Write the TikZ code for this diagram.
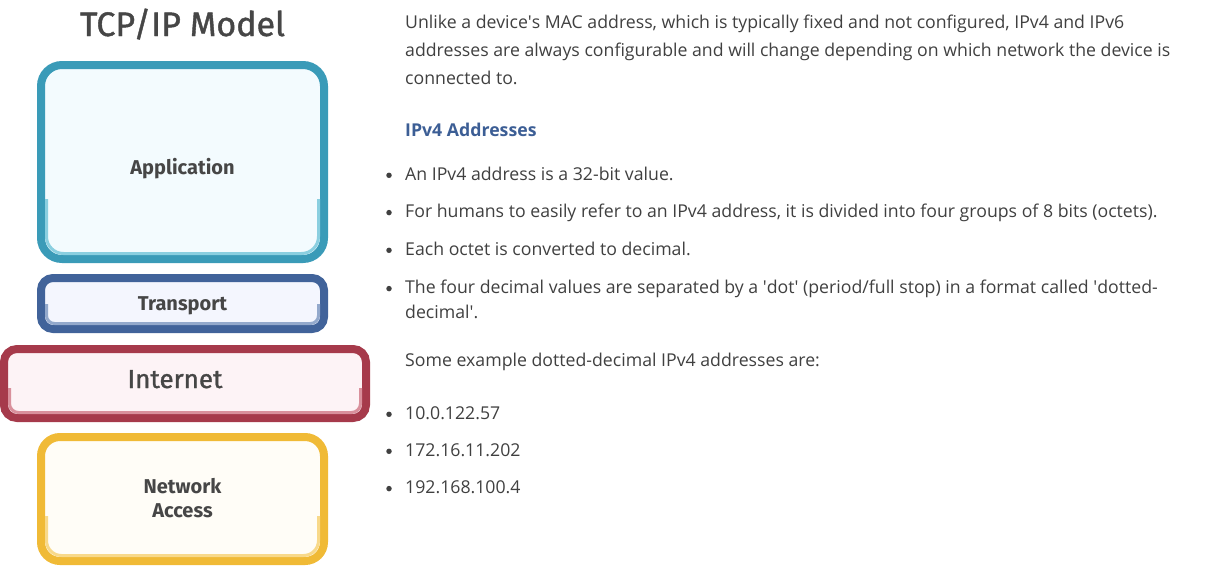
\documentclass[tikz,border=0pt]{standalone}
\usepackage{fontspec}
\newfontfamily\bodyfont{Open Sans}
\newfontfamily\layerfont{Fira Sans}
\newfontfamily\titlefont{Fira Sans}[FakeBold=1.2]
\usetikzlibrary{shadows}
\definecolor{bodytext}{HTML}{404040}
\definecolor{headblue}{HTML}{3C5E95}
\definecolor{labeltext}{HTML}{464646}
\definecolor{appdark}{HTML}{3A9BB8}
\definecolor{applight}{HTML}{8ACFE0}
\definecolor{appfill}{HTML}{F3FBFE}
\definecolor{trdark}{HTML}{41639A}
\definecolor{trlight}{HTML}{93A9CC}
\definecolor{trfill}{HTML}{F4F6FE}
\definecolor{indark}{HTML}{A63A4B}
\definecolor{inlight}{HTML}{D9909C}
\definecolor{infill}{HTML}{FDF3F6}
\definecolor{nadark}{HTML}{F0BA36}
\definecolor{nalight}{HTML}{F8D98A}
\definecolor{nafill}{HTML}{FFFDF7}

\begin{document}
\begin{tikzpicture}[x=1pt,y=-1pt,
	layer/.style={line width=8pt,inner sep=0pt,outer sep=0pt,minimum width=283pt},
	layername/.style={text=labeltext,inner sep=0pt,font=\layerfont\bfseries\fontsize{20}{24}\selectfont},
	body/.style={anchor=base west,inner sep=0pt,text=bodytext,font=\bodyfont\fontsize{17.7}{21}\selectfont},
	dot/.style={circle,fill=bodytext,inner sep=0pt,minimum size=5.5pt}]
	\useasboundingbox (0,0) rectangle (1208,576);

	\node[anchor=base,inner sep=0pt,text=labeltext,font=\titlefont\fontsize{34}{40}\selectfont] at (182.5,36)(title){TCP/IP Model};

	\node[layer,draw=appdark,fill=appfill,rounded corners=21pt,minimum height=194pt] at (182.5,162)(app){};
	\node[layer,draw=trdark,fill=trfill,rounded corners=12pt,minimum height=51pt] at (182.5,303.5)(tr){};
	\node[layer,draw=indark,fill=infill,rounded corners=13pt,minimum width=362pt,minimum height=69pt,
		drop shadow={shadow xshift=3pt,shadow yshift=-3pt,opacity=0.25}] at (185,383.5)(in){};
	\node[layer,draw=nadark,fill=nafill,rounded corners=19pt,minimum height=124pt] at (182.5,499)(na){};
	\foreach \n/\c/\h/\r in {app/applight/60/17,tr/trlight/25/8,in/inlight/30/9,na/nalight/45/15}
		\draw[\c,line width=3pt,rounded corners=\r pt] ([shift={(5.5,-\h)}]\n.south west) -- ([shift={(5.5,-5.5)}]\n.south west)
			-- ([shift={(-5.5,-5.5)}]\n.south east) -- ([shift={(-5.5,-\h)}]\n.south east);

	\node[layername,anchor=base] at (182.5,174)(applabel){Application};
	\node[layername,anchor=base] at (182.5,310)(trlabel){Transport};
	\node[layername,anchor=base,font=\titlefont\fontsize{26}{30}\selectfont] at (175,388)(inlabel){Internet};
	\node[layername,align=center] at (182.5,498.5)(nalabel){Network\\Access};

	\node[body] at (405,28.7)(p1){Unlike a device\textquotesingle s MAC address, which is typically fixed and not configured, IPv4 and IPv6};
	\node[body] at (405,56.7)(p2){addresses are always configurable and will change depending on which network the device is};
	\node[body] at (405,84)(p3){connected to.};
	\node[body,text=headblue,font=\bodyfont\bfseries\fontsize{17.7}{21}\selectfont] at (405,136.7)(head){IPv4 Addresses};

	\node[body] at (405,180)(i1){An IPv4 address is a 32-bit value.};
	\node[body] at (405,217.3)(i2){For humans to easily refer to an IPv4 address, it is divided into four groups of 8 bits (octets).};
	\node[body] at (405,255)(i3){Each octet is converted to decimal.};
	\node[body] at (405,293.3)(i4){The four decimal values are separated by a \textquotesingle dot\textquotesingle{} (period/full stop) in a format called \textquotesingle dotted-};
	\node[body] at (405,318.3)(i4b){decimal\textquotesingle.};
	\node[body] at (405,366.7)(ex){Some example dotted-decimal IPv4 addresses are:};
	\node[body] at (405,419)(a1){10.0.122.57};
	\node[body] at (405,456)(a2){172.16.11.202};
	\node[body] at (405,493.3)(a3){192.168.100.4};

	\node[dot] at (389,175.3)(d1){};
	\node[dot] at (389,212.6)(d2){};
	\node[dot] at (389,250.3)(d3){};
	\node[dot] at (389,288.6)(d4){};
	\node[dot] at (389,414.3)(d5){};
	\node[dot] at (389,451.3)(d6){};
	\node[dot] at (389,488.6)(d7){};
\end{tikzpicture}
\end{document}
